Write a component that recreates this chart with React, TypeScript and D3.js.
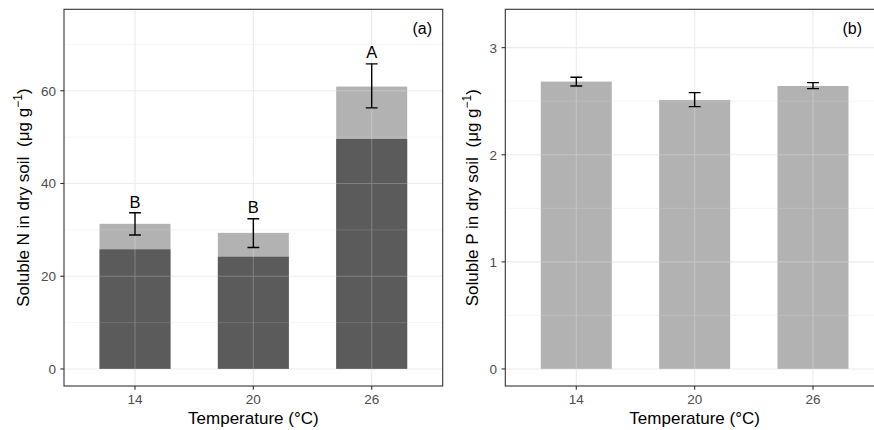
import React from "react";
import * as d3 from "d3";

const categories = ["14", "20", "26"];

// Panel (a): soluble N
const nTotal = [31.3, 29.35, 60.9];
const nPart = [25.8, 24.2, 49.6];
const nErrLow = [28.9, 26.2, 56.3];
const nErrHigh = [33.7, 32.4, 65.8];
const nLetters = ["B", "B", "A"];
const nLetterY = [36.0, 34.9, 68.4];
const nMajor = [0, 20, 40, 60];
const nMinor = [10, 30, 50, 70];

// Panel (b): soluble P
const pTotal = [2.683, 2.512, 2.642];
const pErrLow = [2.642, 2.449, 2.617];
const pErrHigh = [2.723, 2.58, 2.673];
const pMajor = [0, 1, 2, 3];
const pMinor = [0.5, 1.5, 2.5];

const FONT = "'Liberation Sans', Arial, Helvetica, sans-serif";

type PanelProps = {
  id: string;
  left: number;
  right: number;
  top: number;
  bottom: number;
  yDomain: [number, number];
  total: number[];
  part?: number[];
  errLow: number[];
  errHigh: number[];
  letters?: string[];
  letterY?: number[];
  major: number[];
  minor: number[];
  tag: string;
  tagX: number;
  yTitle: string;
  yTitleX: number;
  tickLabelX: number;
};

function Panel(p: PanelProps) {
  const x = d3.scaleLinear().domain([0.4, 3.6]).range([p.left, p.right]);
  const y = d3.scaleLinear().domain(p.yDomain).range([p.bottom, p.top]);
  const bw = x(1.3) - x(1);
  const ew = x(1.05) - x(1);
  const pos = categories.map((_, i) => x(i + 1));
  const fmt = (v: number) => String(v);
  const clipId = `bars-${p.id}`;
  const panelClip = `panel-${p.id}`;
  return (
    <g>
      <defs>
        <clipPath id={panelClip}>
          <rect x={p.left} y={p.top} width={p.right - p.left} height={p.bottom - p.top} />
        </clipPath>
        <clipPath id={clipId}>
          {p.total.map((v, i) => (
            <rect key={i} x={pos[i] - bw} y={y(v)} width={2 * bw} height={y(0) - y(v)} />
          ))}
        </clipPath>
      </defs>
      <g clipPath={`url(#${panelClip})`}>
        {p.minor.map((v) => (
          <line key={"mi" + v} x1={p.left} x2={p.right} y1={y(v)} y2={y(v)} stroke="#EBEBEB" strokeWidth={0.55} />
        ))}
        {p.major.map((v) => (
          <line key={"ma" + v} x1={p.left} x2={p.right} y1={y(v)} y2={y(v)} stroke="#EBEBEB" strokeWidth={1.1} />
        ))}
        {pos.map((px, i) => (
          <line key={"vx" + i} x1={px} x2={px} y1={p.top} y2={p.bottom} stroke="#EBEBEB" strokeWidth={1.1} />
        ))}
        {p.total.map((v, i) => (
          <rect key={"t" + i} x={pos[i] - bw} y={y(v)} width={2 * bw} height={y(0) - y(v)} fill="#B3B3B3" />
        ))}
        {p.part &&
          p.part.map((v, i) => (
            <rect key={"p" + i} x={pos[i] - bw} y={y(v)} width={2 * bw} height={y(0) - y(v)} fill="#5C5C5C" />
          ))}
        <g clipPath={`url(#${clipId})`} opacity={0.22}>
          {p.minor.map((v) => (
            <line key={"omi" + v} x1={p.left} x2={p.right} y1={y(v)} y2={y(v)} stroke="#FFFFFF" strokeWidth={0.55} />
          ))}
          {p.major.map((v) => (
            <line key={"oma" + v} x1={p.left} x2={p.right} y1={y(v)} y2={y(v)} stroke="#FFFFFF" strokeWidth={1.1} />
          ))}
          {pos.map((px, i) => (
            <line key={"ovx" + i} x1={px} x2={px} y1={p.top} y2={p.bottom} stroke="#FFFFFF" strokeWidth={1.1} />
          ))}
        </g>
        {p.errLow.map((lo, i) => {
          const hi = p.errHigh[i];
          const cx = pos[i];
          return (
            <g key={"e" + i} stroke="#000" strokeWidth={1.4} fill="none">
              <line x1={cx} x2={cx} y1={y(lo)} y2={y(hi)} />
              <line x1={cx - ew} x2={cx + ew} y1={y(lo)} y2={y(lo)} />
              <line x1={cx - ew} x2={cx + ew} y1={y(hi)} y2={y(hi)} />
            </g>
          );
        })}
        {p.letters &&
          p.letters.map((t, i) => (
            <text key={"l" + i} x={pos[i]} y={y(p.letterY![i])} dy="0.36em" textAnchor="middle" fontSize={16.5} fill="#000">
              {t}
            </text>
          ))}
        <text x={p.tagX} y={28} dy="0.36em" textAnchor="end" fontSize={16} fill="#000">
          {p.tag}
        </text>
      </g>
      <rect x={p.left} y={p.top} width={p.right - p.left} height={p.bottom - p.top} fill="none" stroke="#333333" strokeWidth={1.1} />
      {p.major.map((v) => (
        <g key={"yt" + v}>
          <line x1={p.left - 3.7} x2={p.left} y1={y(v)} y2={y(v)} stroke="#333333" strokeWidth={1.1} />
          <text x={p.tickLabelX} y={y(v)} dy="0.36em" textAnchor="end" fontSize={13.5} fill="#4D4D4D">
            {fmt(v)}
          </text>
        </g>
      ))}
      {categories.map((c, i) => (
        <g key={"xt" + c}>
          <line x1={pos[i]} x2={pos[i]} y1={p.bottom} y2={p.bottom + 3.7} stroke="#333333" strokeWidth={1.1} />
          <text x={pos[i]} y={404.3} textAnchor="middle" fontSize={13.5} fill="#4D4D4D">
            {c}
          </text>
        </g>
      ))}
      <text x={x(2)} y={424} textAnchor="middle" fontSize={17} fill="#000">
        Temperature (°C)
      </text>
      <text
        transform={`translate(${p.yTitleX},${(p.top + p.bottom) / 2}) rotate(-90)`}
        textAnchor="middle"
        fontSize={17}
        fill="#000"
      >
        {p.yTitle}
        <tspan dx={5}>(μg g</tspan>
        <tspan fontSize={12} dy={-7}>−1</tspan>
        <tspan dy={7}>)</tspan>
      </text>
    </g>
  );
}

export default function App() {
  return (
    <svg
      width={874}
      height={430}
      style={{ position: "absolute", left: 0, top: 0, background: "#fff", fontFamily: FONT }}
    >
      <rect x={0} y={0} width={874} height={430} fill="#fff" />
      <Panel
        id="a"
        left={64}
        right={442.7}
        top={9.3}
        bottom={386}
        yDomain={[-3.67, 77.56]}
        total={nTotal}
        part={nPart}
        errLow={nErrLow}
        errHigh={nErrHigh}
        letters={nLetters}
        letterY={nLetterY}
        major={nMajor}
        minor={nMinor}
        tag="(a)"
        tagX={432}
        yTitle="Soluble N in dry soil "
        yTitleX={28.5}
        tickLabelX={56}
      />
      <Panel
        id="b"
        left={505.3}
        right={884}
        top={9.3}
        bottom={386}
        yDomain={[-0.159, 3.358]}
        total={pTotal}
        errLow={pErrLow}
        errHigh={pErrHigh}
        major={pMajor}
        minor={pMinor}
        tag="(b)"
        tagX={862}
        yTitle="Soluble P in dry soil "
        yTitleX={478}
        tickLabelX={497}
      />
    </svg>
  );
}
